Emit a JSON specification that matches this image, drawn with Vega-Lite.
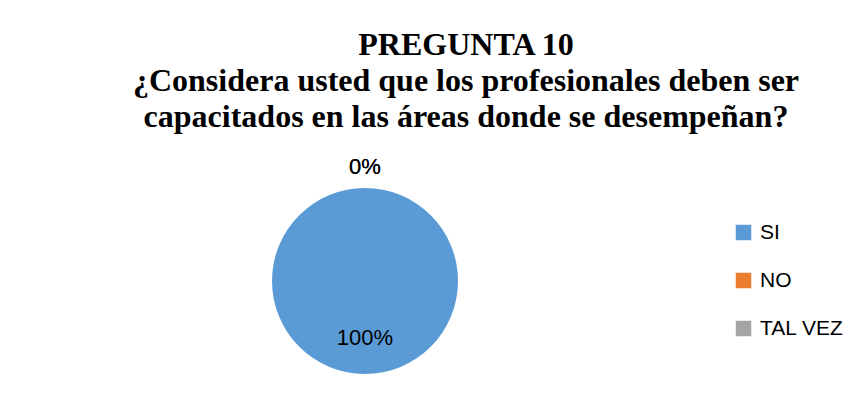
{
  "$schema": "https://vega.github.io/schema/vega-lite/v6.json",
  "width": 186,
  "height": 186,
  "autosize": {"type": "none"},
  "padding": {"left": 272, "top": 188, "right": 400, "bottom": 45},
  "background": "white",
  "config": {"view": {"stroke": null}},
  "title": {
    "text": ["PREGUNTA 10", "¿Considera usted que los profesionales deben ser", "capacitados en las áreas donde se desempeñan?"],
    "font": "Liberation Serif",
    "fontSize": 32,
    "fontWeight": "bold",
    "color": "#000000",
    "lineHeight": 36,
    "anchor": "middle",
    "dx": 101,
    "offset": 22
  },
  "data": {
    "values": [
      {"respuesta": "SI", "porcentaje": 1},
      {"respuesta": "NO", "porcentaje": 0},
      {"respuesta": "TAL VEZ", "porcentaje": 0}
    ]
  },
  "encoding": {
    "theta": {"field": "porcentaje", "type": "quantitative", "stack": true}
  },
  "layer": [
    {
      "mark": {"type": "arc"},
      "encoding": {
        "color": {
          "field": "respuesta",
          "type": "nominal",
          "scale": {"domain": ["SI", "NO", "TAL VEZ"], "range": ["#5B9BD5", "#ED7D31", "#A5A5A5"]},
          "legend": {
            "orient": "none",
            "legendX": 461,
            "legendY": 34,
            "title": null,
            "symbolType": "square",
            "symbolSize": 240,
            "symbolStrokeWidth": 0,
            "labelFont": "Liberation Sans",
            "labelFontSize": 21,
            "labelColor": "#000000",
            "labelOffset": 6,
            "rowPadding": 26
          }
        }
      }
    },
    {
      "mark": {"type": "text", "radius": 57, "font": "Liberation Sans", "fontSize": 22, "color": "#000000"},
      "encoding": {
        "text": {
          "condition": {"test": "datum.porcentaje > 0", "field": "porcentaje", "type": "quantitative", "format": ".0%"},
          "value": ""
        }
      }
    },
    {
      "mark": {"type": "text", "radius": 114, "font": "Liberation Sans", "fontSize": 22, "color": "#000000"},
      "encoding": {
        "text": {
          "condition": {"test": "datum.porcentaje == 0", "field": "porcentaje", "type": "quantitative", "format": ".0%"},
          "value": ""
        }
      }
    }
  ]
}
